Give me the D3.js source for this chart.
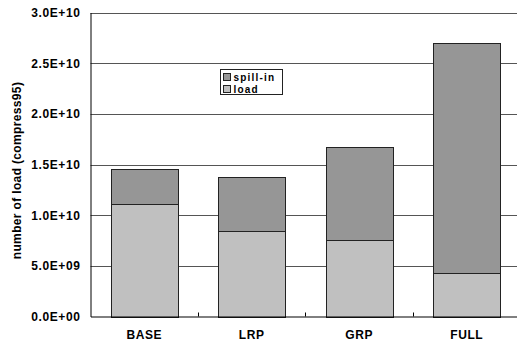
<!DOCTYPE html>
<html><head><meta charset="utf-8">
<script src="https://cdn.jsdelivr.net/npm/d3@7"></script>
<style>body{margin:0;background:#fff}svg{display:block}text{font-family:"Liberation Sans",Arial,sans-serif;font-weight:bold}</style>
</head><body><svg id="c" width="517" height="347"></svg>
<script>
const categories = ["BASE", "LRP", "GRP", "FULL"];
const loadValues = [1.108e10, 0.839e10, 0.751e10, 0.426e10];
const spillValues = [0.348e10, 0.535e10, 0.924e10, 2.272e10];
const seriesNames = ["spill-in", "load"];
const yTicks = [0, 5e9, 1e10, 1.5e10, 2e10, 2.5e10, 3e10];
const yTickLabels = ["0.0E+00", "5.0E+09", "1.0E+10", "1.5E+10", "2.0E+10", "2.5E+10", "3.0E+10"];
const yLabel = "number of load (compress95)";

(function () {
const svg = d3.select("#c");
const mLeft = 90.5, mRight = 520.5, mTop = 12.5, mBottom = 316.5;
const x = d3.scaleBand().domain(categories).range([mLeft, mRight]).paddingInner(0.38).paddingOuter(0.19);
const y = d3.scaleLinear().domain([0, 3e10]).range([mBottom, mTop]);

// gridlines
svg.append("g").selectAll("line").data(yTicks.slice(1)).join("line")
  .attr("x1", mLeft).attr("x2", mRight).attr("y1", d => Math.round(y(d)) + 0.5).attr("y2", d => Math.round(y(d)) + 0.5)
  .attr("stroke", "#555").attr("stroke-width", 1);

// stacked bars
const rows = categories.map((c, i) => ({cat: c, load: loadValues[i], spill: spillValues[i]}));
const stack = d3.stack().keys(["load", "spill"])(rows);
const colors = {load: "#c0c0c0", spill: "#969696"};
svg.append("g").selectAll("g").data(stack).join("g")
  .attr("fill", d => colors[d.key])
  .selectAll("rect").data(d => d).join("rect")
  .attr("x", d => Math.round(x(d.data.cat)) + 0.5)
  .attr("width", Math.round(x.bandwidth()))
  .attr("y", d => Math.round(y(d[1])) + 0.5)
  .attr("height", d => Math.round(y(d[0])) - Math.round(y(d[1])))
  .attr("stroke", "#222").attr("stroke-width", 1);

// axes
const yAxis = d3.axisLeft(y).tickValues(yTicks).tickFormat((d, i) => yTickLabels[i]).tickSize(0).tickPadding(10);
const gy = svg.append("g").attr("transform", `translate(${mLeft},0)`).call(yAxis);
gy.select(".domain").attr("stroke", "#000");
gy.selectAll("text").attr("font-size", 12).attr("letter-spacing", "0.6px").attr("fill", "#000")
  .attr("font-family", "'Liberation Sans',Arial,sans-serif").attr("font-weight", "bold");

const xAxis = d3.axisBottom(x).tickSize(0).tickPadding(14);
const gx = svg.append("g").attr("transform", `translate(0,${mBottom})`).call(xAxis);
gx.select(".domain").attr("stroke", "#000");
gx.selectAll("text").attr("font-size", 12).attr("letter-spacing", "0.6px").attr("fill", "#000")
  .attr("font-family", "'Liberation Sans',Arial,sans-serif").attr("font-weight", "bold");
// category boundary ticks (inward)
const step = x.step();
svg.append("g").selectAll("line").data(categories.slice(1)).join("line")
  .attr("x1", d => Math.round(x(d) - (step - x.bandwidth()) / 2) + 0.5)
  .attr("x2", d => Math.round(x(d) - (step - x.bandwidth()) / 2) + 0.5)
  .attr("y1", mBottom).attr("y2", mBottom - 4).attr("stroke", "#000");

// y label
svg.append("text").attr("transform", `translate(21,${(mTop + mBottom) / 2 + 6}) rotate(-90)`)
  .attr("text-anchor", "middle").attr("font-size", 12).attr("letter-spacing", "0.35px").text(yLabel);

// legend
const lg = svg.append("g").attr("transform", "translate(220.5,69.5)");
lg.append("rect").attr("width", 62).attr("height", 25).attr("fill", "#fff").attr("stroke", "#222");
const lcol = [colors.spill, colors.load];
seriesNames.forEach((n, i) => {
  lg.append("rect").attr("x", 3).attr("y", 4 + i * 12).attr("width", 7).attr("height", 7)
    .attr("fill", lcol[i]).attr("stroke", "#222");
  lg.append("text").attr("x", 13).attr("y", 11.5 + i * 12).attr("font-size", 10).attr("letter-spacing", "1.2px").text(n);
});
})();
</script></body></html>
